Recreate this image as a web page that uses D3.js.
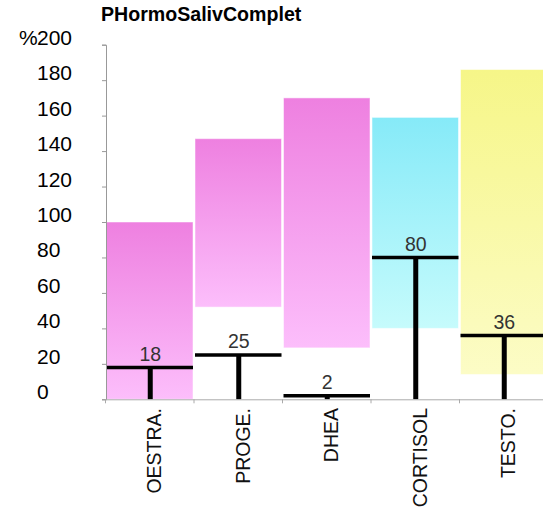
<!DOCTYPE html>
<html>
<head>
<meta charset="utf-8">
<script src="https://cdn.jsdelivr.net/npm/d3@7"></script>
<style>
html,body{margin:0;padding:0;background:#fff;}
svg{display:block;font-family:"Liberation Sans",Arial,sans-serif;}
</style>
</head>
<body>
<svg id="chart" width="551" height="513"></svg>
<script>
const title = "PHormoSalivComplet";
const categories = ["OESTRA.", "PROGE.", "DHEA", "CORTISOL", "TESTO."];
const rangeLow  = [0, 52, 29, 40, 14];
const rangeHigh = [100, 147, 170, 159, 186];
const values    = [18, 25, 2, 80, 36];
const colorGroup = ["pink", "pink", "pink", "cyan", "yellow"];
const yTicks = [0, 20, 40, 60, 80, 100, 120, 140, 160, 180, 200];
const yUnit = "%";

const gradients = {
  pink:   ["#ee80e0", "#fcbefb"],
  cyan:   ["#86eaf8", "#c6fbfc"],
  yellow: ["#f6f688", "#fcfcc6"]
};

(function () {
const svg = d3.select("#chart");
const pLeft = 106, pBottom = 399.3, pTop = 44.7, clipRight = 543;
const x = d3.scaleBand().domain(categories).range([pLeft, pLeft + 5 * 88.5]).padding(0);
const y = d3.scaleLinear().domain([0, 200]).range([pBottom, pTop]);

const defs = svg.append("defs");
Object.entries(gradients).forEach(([k, c]) => {
  const g = defs.append("linearGradient").attr("id", "g-" + k)
    .attr("x1", 0).attr("y1", 0).attr("x2", 0).attr("y2", 1);
  g.append("stop").attr("offset", "0%").attr("stop-color", c[0]);
  g.append("stop").attr("offset", "100%").attr("stop-color", c[1]);
});
defs.append("clipPath").attr("id", "clip").append("rect")
  .attr("x", 0).attr("y", 0).attr("width", clipRight).attr("height", 513);

// Title
svg.append("text").attr("x", 101).attr("y", 21)
  .attr("font-size", 19.6).attr("font-weight", "bold").attr("fill", "#000")
  .text(title);

const data = categories.map((c, i) => ({c, lo: rangeLow[i], hi: rangeHigh[i], v: values[i], g: colorGroup[i]}));

const plot = svg.append("g").attr("clip-path", "url(#clip)");

// Range bars
plot.selectAll("rect.bar").data(data).enter().append("rect")
  .attr("class", "bar")
  .attr("x", d => x(d.c) + 0.5)
  .attr("width", x.bandwidth() - 2)
  .attr("y", d => y(d.hi))
  .attr("height", d => y(d.lo) - y(d.hi))
  .attr("fill", d => "url(#g-" + d.g + ")")
  .attr("stroke", "#ffffff").attr("stroke-opacity", 0.5).attr("stroke-width", 1);

// Y axis
const yAxis = svg.append("g").attr("transform", `translate(${pLeft},0)`)
  .call(d3.axisLeft(y).tickValues(yTicks).tickSize(4).tickFormat(""));
yAxis.select(".domain").attr("stroke", "#999");
yAxis.selectAll(".tick line").attr("stroke", "#999");
svg.selectAll("text.ytick").data(yTicks).enter().append("text")
  .attr("class", "ytick")
  .attr("x", 37).attr("y", d => y(d))
  .attr("font-size", 21).attr("fill", "#000")
  .text(d => d);
svg.append("text").attr("x", 19).attr("y", y(200))
  .attr("font-size", 21).attr("fill", "#000").text(yUnit);

// X axis
const xAxisG = svg.append("g").attr("clip-path", "url(#clip)");
xAxisG.append("line").attr("x1", pLeft).attr("x2", clipRight)
  .attr("y1", pBottom + 0.5).attr("y2", pBottom + 0.5).attr("stroke", "#aaa");
xAxisG.selectAll("line.xt").data(categories).enter().append("line")
  .attr("class", "xt")
  .attr("x1", d => x(d) - 0.5).attr("x2", d => x(d) - 0.5)
  .attr("y1", pBottom).attr("y2", pBottom + 4).attr("stroke", "#aaa");

// Markers
const mk = plot.selectAll("g.mk").data(data).enter().append("g").attr("class", "mk");
mk.append("line")
  .attr("x1", d => x(d.c) + 0.5).attr("x2", d => x(d.c) + x.bandwidth() - 1.5)
  .attr("y1", d => y(d.v)).attr("y2", d => y(d.v))
  .attr("stroke", "#000").attr("stroke-width", 3.5);
mk.append("line")
  .attr("x1", d => x(d.c) + x.bandwidth() / 2).attr("x2", d => x(d.c) + x.bandwidth() / 2)
  .attr("y1", d => y(d.v)).attr("y2", pBottom)
  .attr("stroke", "#000").attr("stroke-width", 5);
mk.append("text")
  .attr("x", d => x(d.c) + x.bandwidth() / 2)
  .attr("y", d => y(d.v) - 6.5)
  .attr("text-anchor", "middle").attr("font-size", 19.5).attr("fill", "#333")
  .text(d => d.v);

// Category labels
svg.selectAll("text.cat").data(categories).enter().append("text")
  .attr("class", "cat")
  .attr("transform", d => `translate(${x(d) + x.bandwidth() / 2 + 11},408) rotate(-90)`)
  .attr("text-anchor", "end").attr("font-size", 19.5).attr("fill", "#111")
  .text(d => d);
})();
</script>
</body>
</html>
